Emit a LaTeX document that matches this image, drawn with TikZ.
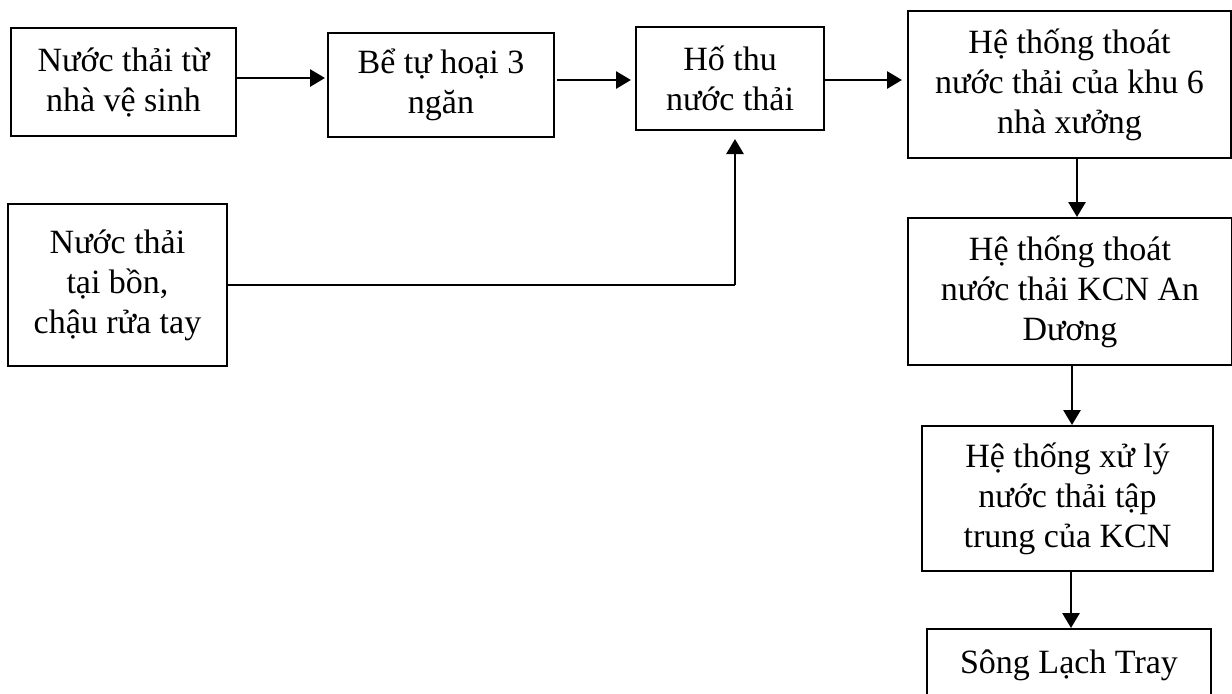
\documentclass[tikz,border=0pt]{standalone}
\usepackage{fontspec}
\setmainfont{Liberation Serif}
\usetikzlibrary{arrows.meta}
\begin{document}
\begin{tikzpicture}[x=0.5pt,y=-0.5pt,
  box/.style={draw,line width=1pt,align=center,inner sep=0pt,
              font=\fontsize{17pt}{20pt}\selectfont},
  flow/.style={line width=1.4pt,-{Triangle[length=7.5pt,width=8.5pt]}},
  feed/.style={line width=0.7pt}]
\clip (0,0) rectangle (1232,693);

% process boxes
\node[box,minimum width=112.5pt,minimum height=54pt] (A) at (123.5,82)
  {Nước thải từ\\nhà vệ sinh};
\node[box,minimum width=113pt,minimum height=52pt] (B) at (441,85)
  {Bể tự hoại 3\\ngăn};
\node[box,minimum width=94pt,minimum height=51.5pt] (C) at (730,78.5)
  {Hố thu\\nước thải};
\node[box,minimum width=161.5pt,minimum height=73.5pt] (D) at (1069.5,84.5)
  {Hệ thống thoát\\nước thải của khu 6\\nhà xưởng};
\node[box,minimum width=109.5pt,minimum height=81pt] (E) at (117.5,285)
  {Nước thải\\tại bồn,\\chậu rửa tay};
\node[box,minimum width=162pt,minimum height=73.5pt] (F) at (1070,291.5)
  {Hệ thống thoát\\nước thải KCN An\\Dương};
\node[box,minimum width=145.5pt,minimum height=72.5pt] (G) at (1067.5,498.5)
  {Hệ thống xử lý\\nước thải tập\\trung của KCN};
\node[box,anchor=north,minimum width=142pt,text height=22pt,text depth=60pt] (H)
  at (1069,628) {Sông Lạch Tray};

% horizontal flow along the top row
\coordinate (ab) at ([yshift=2pt]A.east);
\draw[flow,shorten >=1pt] (ab) -- (ab -| B.west);
\coordinate (bc) at ([yshift=2.5pt]B.east);
\draw[flow,shorten <=1pt,shorten >=2pt] (bc) -- (bc -| C.west);
\coordinate (cd) at ([yshift=-0.75pt]C.east);
\draw[flow,shorten >=2.5pt] (cd) -- (cd -| D.west);

% vertical flow down the right column
\coordinate (df) at ([xshift=3.75pt]D.south);
\draw[flow] (df) -- (df |- F.north);
\coordinate (fg) at ([xshift=1pt]F.south);
\draw[flow] (fg) -- (fg |- G.north);
\coordinate (gh) at ([xshift=1.75pt]G.south);
\draw[flow] (gh) -- (gh |- H.north);

% washbasin line joining the collection pit from below
\coordinate (cs) at ([xshift=2.5pt]C.south);
\coordinate (ec) at (cs |- E.east);
\draw[feed] (E.east) -- (ec);
\draw[flow,shorten >=4pt] (ec) -- (cs);
\end{tikzpicture}
\end{document}
